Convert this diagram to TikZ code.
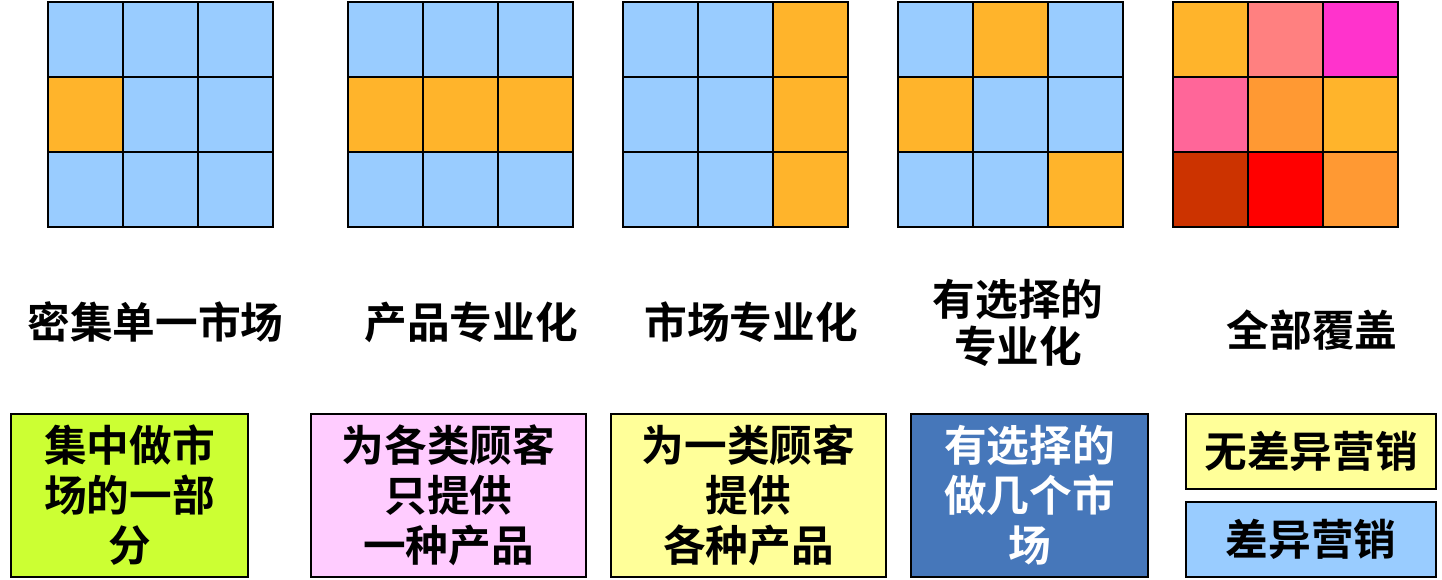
\documentclass[tikz,border=0pt]{standalone}
\usepackage{fontspec}
\setmainfont{Noto Sans CJK SC}[BoldFont={Noto Sans CJK SC Bold}]
\definecolor{cblue}{HTML}{99CCFF}
\definecolor{corg}{HTML}{FFB42B}
\definecolor{csal}{HTML}{FF8080}
\definecolor{cmag}{HTML}{FF33CC}
\definecolor{cpink}{HTML}{FF6699}
\definecolor{corg2}{HTML}{FF9933}
\definecolor{cdred}{HTML}{CC3300}
\definecolor{cred}{HTML}{FF0000}
\definecolor{clime}{HTML}{CCFF33}
\definecolor{clpink}{HTML}{FFCCFF}
\definecolor{clyel}{HTML}{FFFF99}
\definecolor{csteel}{HTML}{4677BA}
\tikzset{
  cell/.style={draw=black, line width=1.5pt, minimum size={75*0.75pt}, inner sep=0pt, outer sep=0pt},
  txt/.style={font=\bfseries\fontsize{32}{36}\selectfont, align=center, inner sep=0pt},
  box/.style={draw=black, line width=1.5pt, inner sep=0pt, align=center,
     font=\bfseries\fontsize{32}{37.5}\selectfont},
}
\begin{document}
\begin{tikzpicture}[x=0.75pt,y=-0.75pt]
\useasboundingbox (0,0) rectangle (1442,579);
% grids: \foreach left x, list of 9 colours (row-major)
\foreach \gx/\ca/\cb/\cc/\cd/\ce/\cf/\cg/\ch/\ci [count=\g] in {
  48/cblue/cblue/cblue/corg/cblue/cblue/cblue/cblue/cblue,
  348/cblue/cblue/cblue/corg/corg/corg/cblue/cblue/cblue,
  623/cblue/cblue/corg/cblue/cblue/corg/cblue/cblue/corg,
  898/cblue/corg/cblue/corg/cblue/cblue/cblue/cblue/corg,
  1173/corg/csal/cmag/cpink/corg2/corg/cdred/cred/corg2}{
  \node[cell, fill=\ca] (g\g-1) at (\gx+37.5, 39.5) {};
  \node[cell, fill=\cb] (g\g-2) at (\gx+112.5, 39.5) {};
  \node[cell, fill=\cc] (g\g-3) at (\gx+187.5, 39.5) {};
  \node[cell, fill=\cd] (g\g-4) at (\gx+37.5, 114.5) {};
  \node[cell, fill=\ce] (g\g-5) at (\gx+112.5, 114.5) {};
  \node[cell, fill=\cf] (g\g-6) at (\gx+187.5, 114.5) {};
  \node[cell, fill=\cg] (g\g-7) at (\gx+37.5, 189.5) {};
  \node[cell, fill=\ch] (g\g-8) at (\gx+112.5, 189.5) {};
  \node[cell, fill=\ci] (g\g-9) at (\gx+187.5, 189.5) {};
}
% labels
\node[txt] (l1) at (155.5,322) {密集单一市场};
\node[txt] (l2) at (471,322) {产品专业化};
\node[txt] (l3) at (751,322) {市场专业化};
\node[txt, font=\bfseries\fontsize{32}{35.25}\selectfont] (l4) at (1018,323) {有选择的\\专业化};
\node[txt] (l5) at (1312,330) {全部覆盖};
% boxes
\node[box, fill=clime, minimum width={237*0.75pt}, minimum height={163*0.75pt}] (b1) at (129.5,495.5) {集中做市\\场的一部\\分};
\node[box, fill=clpink, minimum width={275*0.75pt}, minimum height={163*0.75pt}] (b2) at (448.5,495.5) {为各类顾客\\只提供\\一种产品};
\node[box, fill=clyel, minimum width={275*0.75pt}, minimum height={163*0.75pt}] (b3) at (748.5,495.5) {为一类顾客\\提供\\各种产品};
\node[box, fill=csteel, text=white, minimum width={237*0.75pt}, minimum height={163*0.75pt}] (b4) at (1029.5,495.5) {有选择的\\做几个市\\场};
\node[box, fill=clyel, minimum width={250*0.75pt}, minimum height={75*0.75pt}] (b5) at (1311,451.5) {无差异营销};
\node[box, fill=cblue, minimum width={250*0.75pt}, minimum height={75*0.75pt}] (b6) at (1311,539.5) {差异营销};
\end{tikzpicture}
\end{document}
